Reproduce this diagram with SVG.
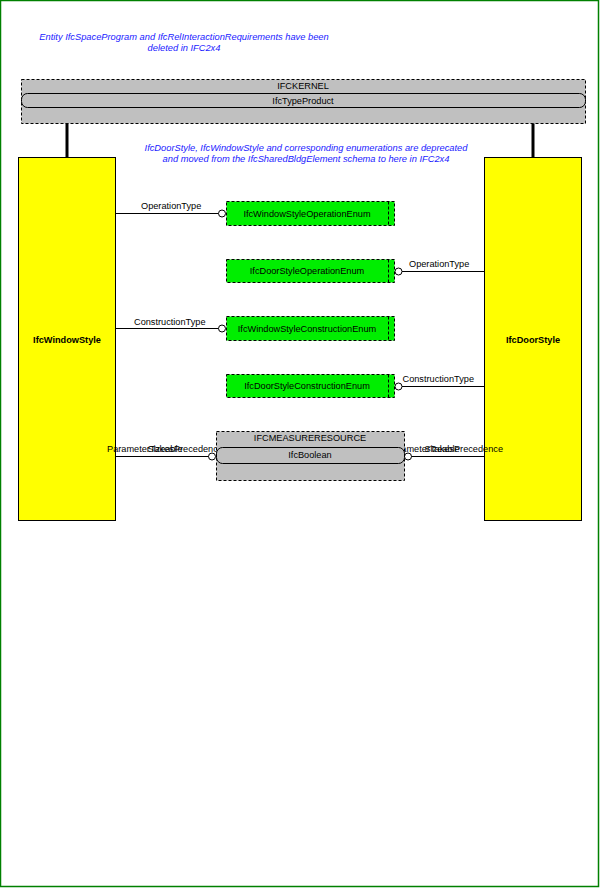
<svg xmlns="http://www.w3.org/2000/svg" width="600" height="888" viewBox="0 0 600 888">
<style>
text{font-family:"Liberation Sans",Arial,sans-serif;font-size:9.2px;fill:#000}
.note{font-style:italic;fill:#1a1aff;text-anchor:middle;font-size:9.3px}
.c{text-anchor:middle}
.b{font-weight:bold;text-anchor:middle}
.pkg{fill:#c0c0c0;stroke:#000;stroke-width:1;stroke-dasharray:3,2}
.ref{fill:#c0c0c0;stroke:#000;stroke-width:1}
.ent{fill:#ffff00;stroke:#000;stroke-width:1}
.enum{fill:#00ee00;stroke:#000;stroke-width:1;stroke-dasharray:3,2}
.ln{stroke:#000;stroke-width:1;fill:none}
.inh{stroke:#000;stroke-width:3;fill:none}
.circ{fill:#fff;stroke:#000;stroke-width:1}
</style>
<rect x="0.5" y="0.5" width="598" height="886" fill="#fff" stroke="#008000" stroke-width="1.5"/>
<g id="notes">
<text class="note" x="184" y="40">Entity IfcSpaceProgram and IfcRelInteractionRequirements have been</text>
<text class="note" x="184" y="51">deleted in IFC2x4</text>
<text class="note" x="306" y="151">IfcDoorStyle, IfcWindowStyle and corresponding enumerations are deprecated</text>
<text class="note" x="306" y="162">and moved from the IfcSharedBldgElement schema to here in IFC2x4</text>
</g>
<g id="IfcWindowStyle">
<rect class="ent" x="18.5" y="157.5" width="97" height="363"/>
<text class="b" x="67" y="343">IfcWindowStyle</text>
</g>
<g id="IfcDoorStyle">
<rect class="ent" x="484.5" y="157.5" width="97" height="363"/>
<text class="b" x="533" y="343">IfcDoorStyle</text>
</g>
<g id="connectors">
<line class="inh" x1="67" y1="123" x2="67" y2="157"/>
<line class="inh" x1="533" y1="123" x2="533" y2="157"/>
<line class="ln" x1="115" y1="213.5" x2="219" y2="213.5"/>
<circle class="circ" cx="222" cy="213.5" r="3.5"/>
<text x="141" y="209">OperationType</text>
<line class="ln" x1="402" y1="271.5" x2="484" y2="271.5"/>
<circle class="circ" cx="398.5" cy="271.5" r="3.5"/>
<text x="409" y="267">OperationType</text>
<line class="ln" x1="115" y1="328.5" x2="219" y2="328.5"/>
<circle class="circ" cx="222" cy="328.5" r="3.5"/>
<text x="134" y="325">ConstructionType</text>
<line class="ln" x1="402" y1="386.5" x2="484" y2="386.5"/>
<circle class="circ" cx="398.5" cy="386.5" r="3.5"/>
<text x="402.5" y="382">ConstructionType</text>
<line class="ln" x1="115" y1="456.5" x2="209" y2="456.5"/>
<text x="107" y="452">ParameterTakesPrecedence</text>
<text class="c" x="165" y="452">Sizeable</text>
<line class="ln" x1="411" y1="456.5" x2="484" y2="456.5"/>
<text x="503" y="452" text-anchor="end">ParameterTakesPrecedence</text>
<text class="c" x="442" y="452">Sizeable</text>
<circle class="circ" cx="212" cy="456.5" r="3.5"/>
<circle class="circ" cx="408" cy="456.5" r="3.5"/>
</g>
<g id="IFCKERNEL">
<rect class="pkg" x="21.5" y="79.5" width="564" height="44"/>
<text class="c" x="303" y="89">IFCKERNEL</text>
<rect class="ref" x="21.5" y="93.5" width="564" height="14" rx="6" ry="6"/>
<text class="c" x="303" y="103.5">IfcTypeProduct</text>
</g>
<g id="IfcWindowStyleOperationEnum">
<rect class="enum" x="226.5" y="201.5" width="168" height="24"/>
<line class="enum" x1="388.5" y1="201.5" x2="388.5" y2="225.5"/>
<text class="c" x="307" y="217">IfcWindowStyleOperationEnum</text>
</g>
<g id="IfcDoorStyleOperationEnum">
<rect class="enum" x="226.5" y="259.5" width="168" height="23"/>
<line class="enum" x1="388.5" y1="259.5" x2="388.5" y2="282.5"/>
<text class="c" x="307" y="274">IfcDoorStyleOperationEnum</text>
</g>
<g id="IfcWindowStyleConstructionEnum">
<rect class="enum" x="226.5" y="316.5" width="168" height="24"/>
<line class="enum" x1="388.5" y1="316.5" x2="388.5" y2="340.5"/>
<text class="c" x="307" y="332">IfcWindowStyleConstructionEnum</text>
</g>
<g id="IfcDoorStyleConstructionEnum">
<rect class="enum" x="226.5" y="374.5" width="168" height="23"/>
<line class="enum" x1="388.5" y1="374.5" x2="388.5" y2="397.5"/>
<text class="c" x="307" y="389">IfcDoorStyleConstructionEnum</text>
</g>
<g id="IFCMEASURERESOURCE">
<rect class="pkg" x="216.5" y="431.5" width="188" height="49"/>
<text class="c" x="310" y="441">IFCMEASURERESOURCE</text>
<rect class="ref" x="216.5" y="447.5" width="188" height="16" rx="6" ry="6"/>
<text class="c" x="310" y="458">IfcBoolean</text>
</g>
</svg>
